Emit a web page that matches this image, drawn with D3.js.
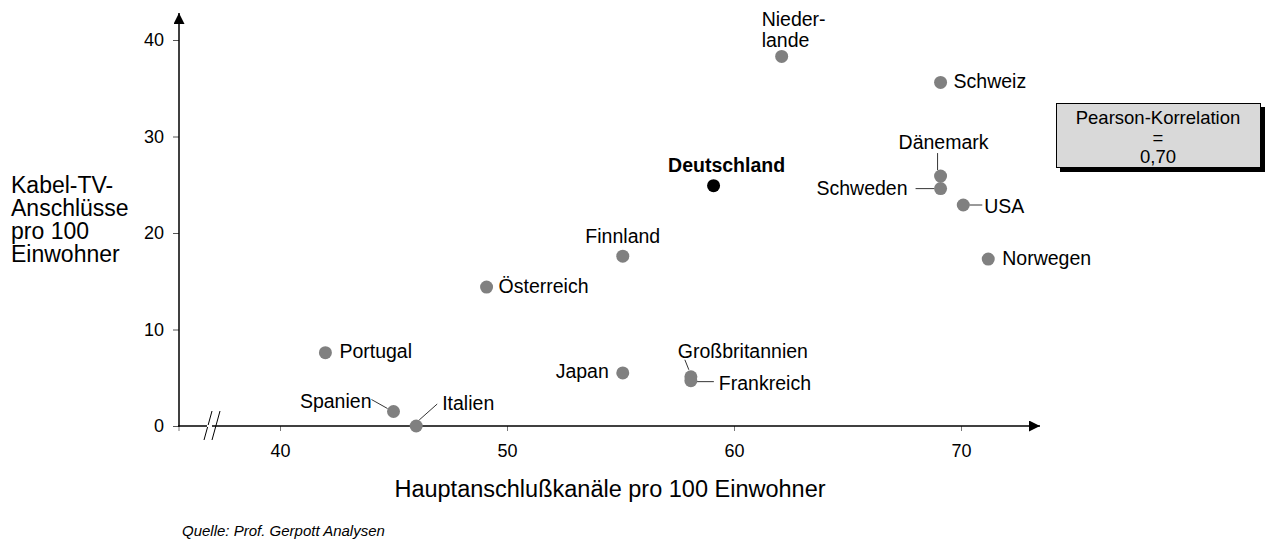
<!DOCTYPE html>
<html>
<head>
<meta charset="utf-8">
<script src="https://cdn.jsdelivr.net/npm/d3@7.9.0/dist/d3.min.js"></script>
<style>
  body { margin: 0; background: #fff; }
  svg { font-family: Helvetica, Arial, "Liberation Sans", sans-serif; }
</style>
</head>
<body>
<svg id="chart" width="1266" height="543"></svg>
<script>
const countries = ['Niederlande', 'Schweiz', 'Dänemark', 'Schweden', 'USA', 'Norwegen', 'Deutschland',
  'Finnland', 'Österreich', 'Portugal', 'Spanien', 'Italien', 'Japan', 'Großbritannien', 'Frankreich'];
const hauptanschluss = [62.1, 69.1, 69.1, 69.1, 70.1, 71.2, 59.1, 55.1, 49.1, 42.0, 45.0, 46.0, 55.1, 58.1, 58.1];
const kabelTV = [38.3, 35.6, 25.9, 24.6, 22.9, 17.3, 24.9, 17.6, 14.4, 7.6, 1.5, 0, 5.5, 5.1, 4.7];
const xTicks = [40, 50, 60, 70];
const yTicks = [0, 10, 20, 30, 40];
const pearsonLines = ['Pearson-Korrelation', '=', '0,70'];

// label placement (offsets from the point), leader lines where the original has them
const labelLayout = {
  'Niederlande': { lines: ['Nieder-', 'lande'], dx: -20, dy: -30, anchor: 'start' },
  'Schweiz': { dx: 13, dy: 6, anchor: 'start' },
  'Dänemark': { dx: -42, dy: -27, anchor: 'start', leader: [-3, -23, -3, -6] },
  'Schweden': { dx: -33, dy: 6, anchor: 'end', leader: [-25, 0, -6, 0] },
  'USA': { dx: 21, dy: 8, anchor: 'start', leader: [6, 0, 19, 0] },
  'Norwegen': { dx: 14, dy: 6, anchor: 'start' },
  'Deutschland': { dx: 13, dy: -14, anchor: 'middle', bold: true },
  'Finnland': { dx: 0, dy: -13, anchor: 'middle' },
  'Österreich': { dx: 12, dy: 6, anchor: 'start' },
  'Portugal': { dx: 14, dy: 5, anchor: 'start' },
  'Spanien': { dx: -22, dy: -4, anchor: 'end', leader: [-22, -12, -6, -3] },
  'Italien': { dx: 26, dy: -16, anchor: 'start', leader: [3, -6, 21, -22] },
  'Japan': { dx: -14, dy: 5, anchor: 'end' },
  'Großbritannien': { dx: -13, dy: -19, anchor: 'start', leader: [-6, -17, -2, -7] },
  'Frankreich': { dx: 28, dy: 9, anchor: 'start', leader: [3, 1, 23, 1] }
};

const svg = d3.select('#chart');
const x = d3.scaleLinear().domain([40, 70]).range([280, 961]);
const y = d3.scaleLinear().domain([0, 40]).range([426, 40]);
const x0 = 179, yTop = 13, xEnd = 1040, yBase = y(0);
const font = 'Helvetica, Arial, "Liberation Sans", sans-serif';

// arrow markers
const defs = svg.append('defs');
defs.append('marker').attr('id', 'arrow').attr('viewBox', '0 0 10 10')
  .attr('refX', 10).attr('refY', 5).attr('markerWidth', 11).attr('markerHeight', 11)
  .attr('markerUnits', 'userSpaceOnUse').attr('orient', 'auto')
  .append('path').attr('d', 'M0,0L10,5L0,10Z').attr('fill', '#000');

// y axis
const yAxis = svg.append('g').attr('transform', `translate(${x0},0)`)
  .call(d3.axisLeft(y).tickValues(yTicks).tickSize(6).tickPadding(9));
yAxis.select('.domain').remove();
yAxis.selectAll('.tick line').attr('stroke', '#555');
yAxis.selectAll('.tick text').attr('font-size', 18).attr('fill', '#000').attr('font-family', font);
svg.append('line').attr('x1', x0).attr('x2', x0).attr('y1', yBase + 1).attr('y2', yTop)
  .attr('stroke', '#000').attr('stroke-width', 1.5).attr('marker-end', 'url(#arrow)');

// x axis
const xAxis = svg.append('g').attr('transform', `translate(0,${yBase})`)
  .call(d3.axisBottom(x).tickValues(xTicks).tickSize(5).tickPadding(13).tickFormat(d3.format('d')));
xAxis.select('.domain').remove();
xAxis.selectAll('.tick line').attr('stroke', '#777');
xAxis.selectAll('.tick text').attr('font-size', 18).attr('fill', '#000').attr('font-family', font);
svg.append('line').attr('x1', x0).attr('x2', x0).attr('y1', yBase).attr('y2', yBase + 5).attr('stroke', '#777');
svg.append('line').attr('x1', x0 - 1).attr('x2', xEnd).attr('y1', yBase).attr('y2', yBase)
  .attr('stroke', '#000').attr('stroke-width', 1.5).attr('marker-end', 'url(#arrow)');

// axis break
[0, 8].forEach(off => {
  svg.append('line').attr('x1', 204 + off).attr('y1', 440).attr('x2', 212 + off).attr('y2', 411)
    .attr('stroke', '#000').attr('stroke-width', 1);
});
svg.append('rect').attr('x', 207).attr('y', yBase - 1).attr('width', 5).attr('height', 2).attr('fill', '#fff');

// leader lines
countries.forEach((c, i) => {
  const l = labelLayout[c];
  if (!l.leader) return;
  const px = x(hauptanschluss[i]), py = y(kabelTV[i]);
  svg.append('line')
    .attr('x1', px + l.leader[0]).attr('y1', py + l.leader[1])
    .attr('x2', px + l.leader[2]).attr('y2', py + l.leader[3])
    .attr('stroke', '#000').attr('stroke-width', 0.8);
});

// points
svg.append('g').selectAll('circle').data(countries).join('circle')
  .attr('cx', (d, i) => x(hauptanschluss[i]))
  .attr('cy', (d, i) => y(kabelTV[i]))
  .attr('r', 6.5)
  .attr('fill', d => d === 'Deutschland' ? '#000' : '#808080');

// labels
countries.forEach((c, i) => {
  const l = labelLayout[c];
  const px = x(hauptanschluss[i]), py = y(kabelTV[i]);
  const t = svg.append('text')
    .attr('x', px + l.dx).attr('y', py + l.dy)
    .attr('text-anchor', l.anchor).attr('font-size', 19.5)
    .attr('font-weight', l.bold ? 'bold' : 'normal').attr('fill', '#000');
  (l.lines || [c]).forEach((s, k) => {
    t.append('tspan').attr('x', px + l.dx).attr('dy', k === 0 ? 0 : 21).text(s);
  });
});

// axis titles
svg.append('text').attr('x', 610).attr('y', 497).attr('text-anchor', 'middle')
  .attr('font-size', 23.5).text('Hauptanschlußkanäle pro 100 Einwohner');
const yt = svg.append('text').attr('x', 11).attr('y', 193).attr('font-size', 23);
['Kabel-TV-', 'Anschlüsse', 'pro 100', 'Einwohner'].forEach((s, k) => {
  yt.append('tspan').attr('x', 11).attr('dy', k === 0 ? 0 : 23).text(s);
});

// Pearson box
svg.append('rect').attr('x', 1060).attr('y', 107).attr('width', 205).attr('height', 65).attr('fill', '#000');
svg.append('rect').attr('x', 1056.5).attr('y', 103.5).attr('width', 204).attr('height', 64)
  .attr('fill', '#d9d9d9').attr('stroke', '#000').attr('stroke-width', 1);
pearsonLines.forEach((s, k) => {
  svg.append('text').attr('x', 1158).attr('y', 124 + k * 19.5).attr('text-anchor', 'middle')
    .attr('font-size', 18.5).text(s);
});

// source
svg.append('text').attr('x', 182).attr('y', 536).attr('font-size', 15).attr('font-style', 'italic')
  .text('Quelle: Prof. Gerpott Analysen');
</script>
</body>
</html>
